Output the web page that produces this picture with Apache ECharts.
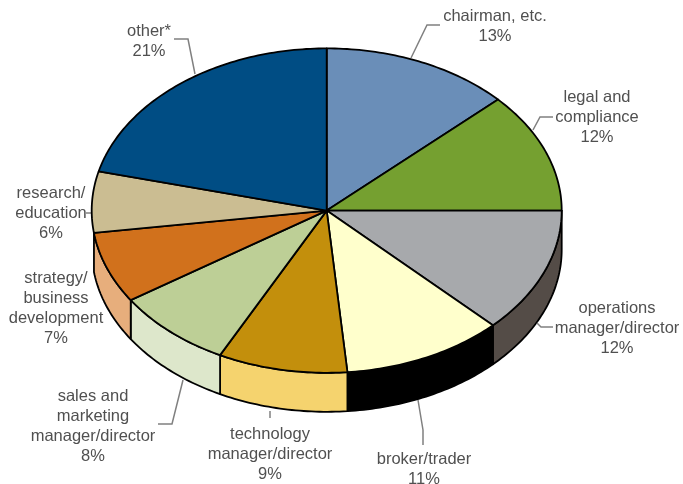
<!DOCTYPE html>
<html>
<head>
<meta charset="utf-8">
<style>
  html, body { margin: 0; padding: 0; background: #fff; }
  #chart { width: 683px; height: 484px; }
</style>
<script src="https://cdn.jsdelivr.net/npm/echarts@6/dist/echarts.min.js"></script>
</head>
<body>
<div id="chart"></div>
<script>
/* Data, clockwise from 12 o'clock */
const categories = [
  "chairman, etc.", "legal and\ncompliance", "operations\nmanager/director",
  "broker/trader", "technology\nmanager/director", "sales and\nmarketing\nmanager/director",
  "strategy/\nbusiness\ndevelopment", "research/\neducation", "other*"
];
const shares = [13, 12, 12.49, 11.1, 8.9, 8.2, 7.1, 6.1, 21.1];
const topColors = ["#6a8eb8", "#75a030", "#a7a9ac", "#ffffcc", "#c38f0c", "#bdcf96", "#d1711c", "#cbbd92", "#004d84"];
const sideColors = [null, null, "#544c47", "#000000", "#f5d36e", "#dde7cb", "#e7ae7c", null, null];

/* Layout of the disc and the annotations */
const disc = { cx: 326.7, cy: 210.6, rx: 235, ry: 162.2, depth: 39 };
const labelPos = [[495, 6], [597, 87], [617, 298], [424, 449], [270, 424], [93, 386], [56, 268], [51, 183], [149, 21]];
const leaders = [
  [[411, 58], [427, 25], [440, 25]],
  [[533, 130], [540, 117], [553, 117]],
  [[537, 323], [541, 327], [553, 327]],
  [[418, 400], [423, 430], [423, 445]],
  [[270, 411], [270, 418]],
  [[183, 380], [172, 424], [158, 424]],
  [[86, 213], [91, 213]],
  null,
  [[195, 74], [188, 39], [174, 39]]
];

const total = shares.reduce((a, b) => a + b, 0);

function edgePoint(deg, dy) {
  const r = deg * Math.PI / 180;
  return [disc.cx + disc.rx * Math.sin(r), disc.cy - disc.ry * Math.cos(r) + (dy || 0)];
}

function arc(from, to, dy) {
  const pts = [];
  const steps = Math.max(2, Math.ceil(Math.abs(to - from)));
  for (let i = 0; i <= steps; i++) pts.push(edgePoint(from + (to - from) * i / steps, dy));
  return pts;
}

function renderSlice(params, api) {
  const i = params.dataIndex;
  const value = api.value(0);
  const start = shares.slice(0, i).reduce((a, b) => a + b, 0) / total * 360;
  const end = start + value / total * 360;
  const children = [];
  const line = { stroke: "#000", lineWidth: 1.8, lineJoin: "round" };

  // side wall, only the front slices have one
  if (sideColors[i]) {
    const wallFrom = Math.max(start, 90), wallTo = Math.min(end, 270);
    children.push({
      type: "polygon",
      shape: { points: arc(wallFrom, wallTo).concat(arc(wallTo, wallFrom, disc.depth)) },
      style: Object.assign({ fill: sideColors[i] }, line)
    });
  }
  children.push({
    type: "polygon",
    shape: { points: [[disc.cx, disc.cy]].concat(arc(start, end)) },
    style: Object.assign({ fill: topColors[i] }, line)
  });
  if (leaders[i]) {
    children.push({
      type: "polyline",
      shape: { points: leaders[i] },
      style: { fill: "none", stroke: "#808080", lineWidth: 1.5 }
    });
  }
  children.push({
    type: "text",
    style: {
      x: labelPos[i][0], y: labelPos[i][1],
      text: categories[i] + "\n" + Math.round(value) + "%",
      fill: "#505050",
      font: "16.5px 'Liberation Sans', Arial, sans-serif",
      lineHeight: 20,
      align: "center",
      verticalAlign: "top"
    }
  });
  return { type: "group", children: children };
}

const chart = echarts.init(document.getElementById("chart"));
chart.setOption({
  animation: false,
  backgroundColor: "#fff",
  series: [{
    type: "custom",
    coordinateSystem: "none",
    renderItem: renderSlice,
    data: shares.map((v, i) => ({ name: categories[i], value: [v] }))
  }]
});
</script>
</body>
</html>
